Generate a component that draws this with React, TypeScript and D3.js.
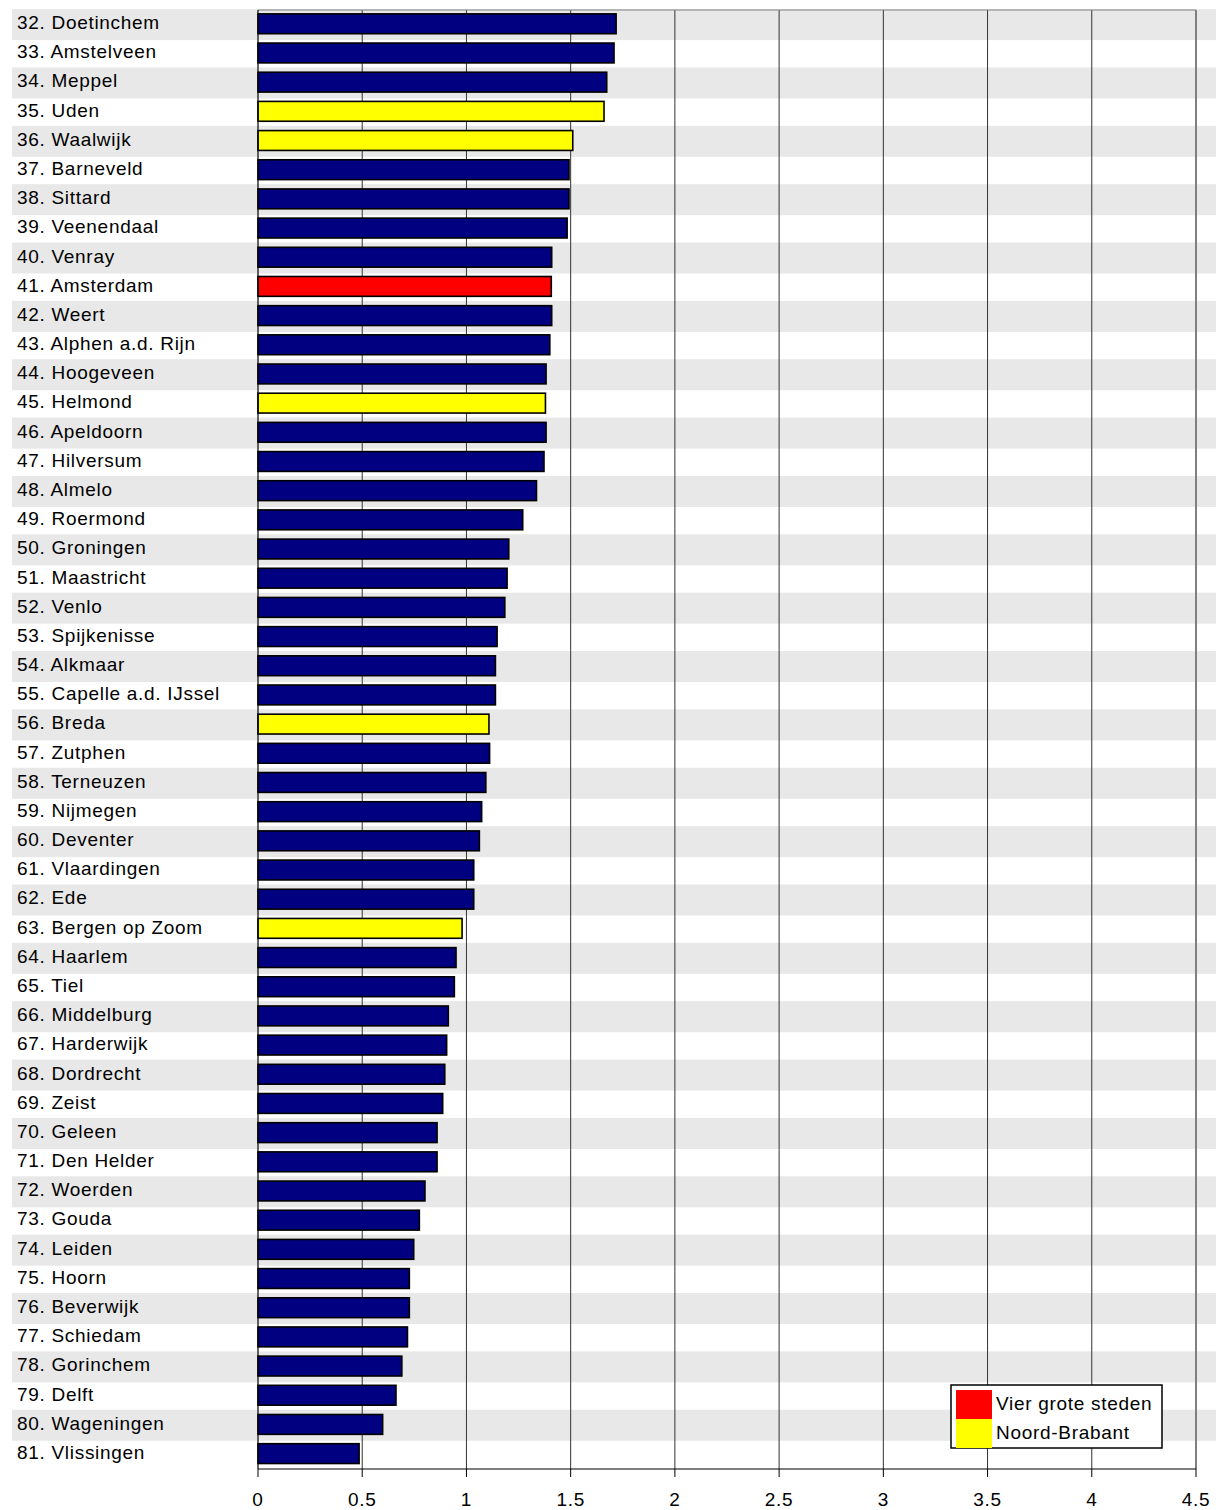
import React from "react";
import * as d3 from "d3";

const cities = [
  "32. Doetinchem","33. Amstelveen","34. Meppel","35. Uden","36. Waalwijk","37. Barneveld","38. Sittard","39. Veenendaal","40. Venray","41. Amsterdam",
  "42. Weert","43. Alphen a.d. Rijn","44. Hoogeveen","45. Helmond","46. Apeldoorn","47. Hilversum","48. Almelo","49. Roermond","50. Groningen","51. Maastricht",
  "52. Venlo","53. Spijkenisse","54. Alkmaar","55. Capelle a.d. IJssel","56. Breda","57. Zutphen","58. Terneuzen","59. Nijmegen","60. Deventer","61. Vlaardingen",
  "62. Ede","63. Bergen op Zoom","64. Haarlem","65. Tiel","66. Middelburg","67. Harderwijk","68. Dordrecht","69. Zeist","70. Geleen","71. Den Helder",
  "72. Woerden","73. Gouda","74. Leiden","75. Hoorn","76. Beverwijk","77. Schiedam","78. Gorinchem","79. Delft","80. Wageningen","81. Vlissingen",
];

const values = [
  1.718, 1.708, 1.673, 1.66, 1.51, 1.492, 1.492, 1.483, 1.409, 1.407,
  1.409, 1.40, 1.382, 1.379, 1.382, 1.372, 1.336, 1.27, 1.203, 1.195,
  1.184, 1.147, 1.139, 1.139, 1.108, 1.111, 1.093, 1.073, 1.062, 1.035,
  1.035, 0.979, 0.95, 0.942, 0.913, 0.905, 0.896, 0.886, 0.859, 0.859,
  0.801, 0.774, 0.747, 0.726, 0.726, 0.717, 0.69, 0.662, 0.598, 0.485,
];

// group: "n" = other, "g4" = Vier grote steden, "nb" = Noord-Brabant
const groups = [
  "n","n","n","nb","nb","n","n","n","n","g4",
  "n","n","n","nb","n","n","n","n","n","n",
  "n","n","n","n","nb","n","n","n","n","n",
  "n","nb","n","n","n","n","n","n","n","n",
  "n","n","n","n","n","n","n","n","n","n",
];

const xTicks = [0, 0.5, 1, 1.5, 2, 2.5, 3, 3.5, 4, 4.5];
const legendItems = [
  { key: "g4", label: "Vier grote steden" },
  { key: "nb", label: "Noord-Brabant" },
];
const colorMap: Record<string, string> = { n: "#000080", g4: "#ff0000", nb: "#ffff00" };

export default function App() {
  const W = 1221, H = 1510;
  const left = 258, right = 1196, top = 10, bottom = 1469;
  const x = d3.scaleLinear().domain([0, 4.5]).range([left, right]);
  const y = d3.scaleBand<string>().domain(cities).range([top, bottom]).padding(0);
  const bw = y.bandwidth();
  const barH = bw * 0.68;
  const font = "'Liberation Sans', Arial, sans-serif";
  const fs = 19;
  const ls = 0.7;

  return (
    <svg width={W} height={H} style={{ position: "absolute", left: 0, top: 0, background: "#fff" }}>
      {/* stripes */}
      {cities.map((c, i) =>
        i % 2 === 0 ? (
          <rect key={"s" + c} x={12} y={(y(c) as number) + bw / 2 - 15.5} width={1216 - 12} height={31} fill="#e8e8e8" />
        ) : null
      )}
      {/* gridlines */}
      {xTicks.filter((t) => t > 0 && t < 4.5).map((t) => (
        <line key={"g" + t} x1={x(t)} x2={x(t)} y1={top} y2={bottom} stroke="#333" strokeWidth={1} />
      ))}
      {/* top border */}
      <line x1={left} x2={right} y1={top} y2={top} stroke="#808080" strokeWidth={1.2} />
      {/* right border */}
      <line x1={right} x2={right} y1={top} y2={bottom} stroke="#808080" strokeWidth={2} />
      {/* bars */}
      {cities.map((c, i) => (
        <rect
          key={"b" + c}
          x={x(0)}
          y={(y(c) as number) + (bw - barH) / 2 - 0.8}
          width={x(values[i]) - x(0)}
          height={barH}
          fill={colorMap[groups[i]]}
          stroke="#000"
          strokeWidth={1.6}
        />
      ))}
      {/* axes */}
      <line x1={left} x2={left} y1={top} y2={bottom} stroke="#000" strokeWidth={1.2} />
      <line x1={left} x2={right} y1={bottom} y2={bottom} stroke="#000" strokeWidth={1.2} />
      {xTicks.map((t) => (
        <g key={"t" + t}>
          <line x1={x(t)} x2={x(t)} y1={bottom} y2={bottom + 8} stroke="#000" strokeWidth={1} />
          <text x={x(t)} y={1506} textAnchor="middle" fontFamily={font} fontSize={fs} letterSpacing={ls}>
            {String(t)}
          </text>
        </g>
      ))}
      {/* category labels */}
      {cities.map((c) => (
        <text key={"l" + c} x={17} y={(y(c) as number) + bw / 2 + 4.5} fontFamily={font} fontSize={fs} letterSpacing={ls}>
          {c}
        </text>
      ))}
      {/* legend */}
      <rect x={951} y={1385} width={211} height={63} fill="#fff" stroke="#000" strokeWidth={1.5} />
      {legendItems.map((it, i) => (
        <g key={"lg" + it.key}>
          <rect x={956} y={1390 + i * 29} width={36} height={29} fill={colorMap[it.key]} />
          <text x={996} y={1410 + i * 29} fontFamily={font} fontSize={fs} letterSpacing={ls}>
            {it.label}
          </text>
        </g>
      ))}
    </svg>
  );
}
